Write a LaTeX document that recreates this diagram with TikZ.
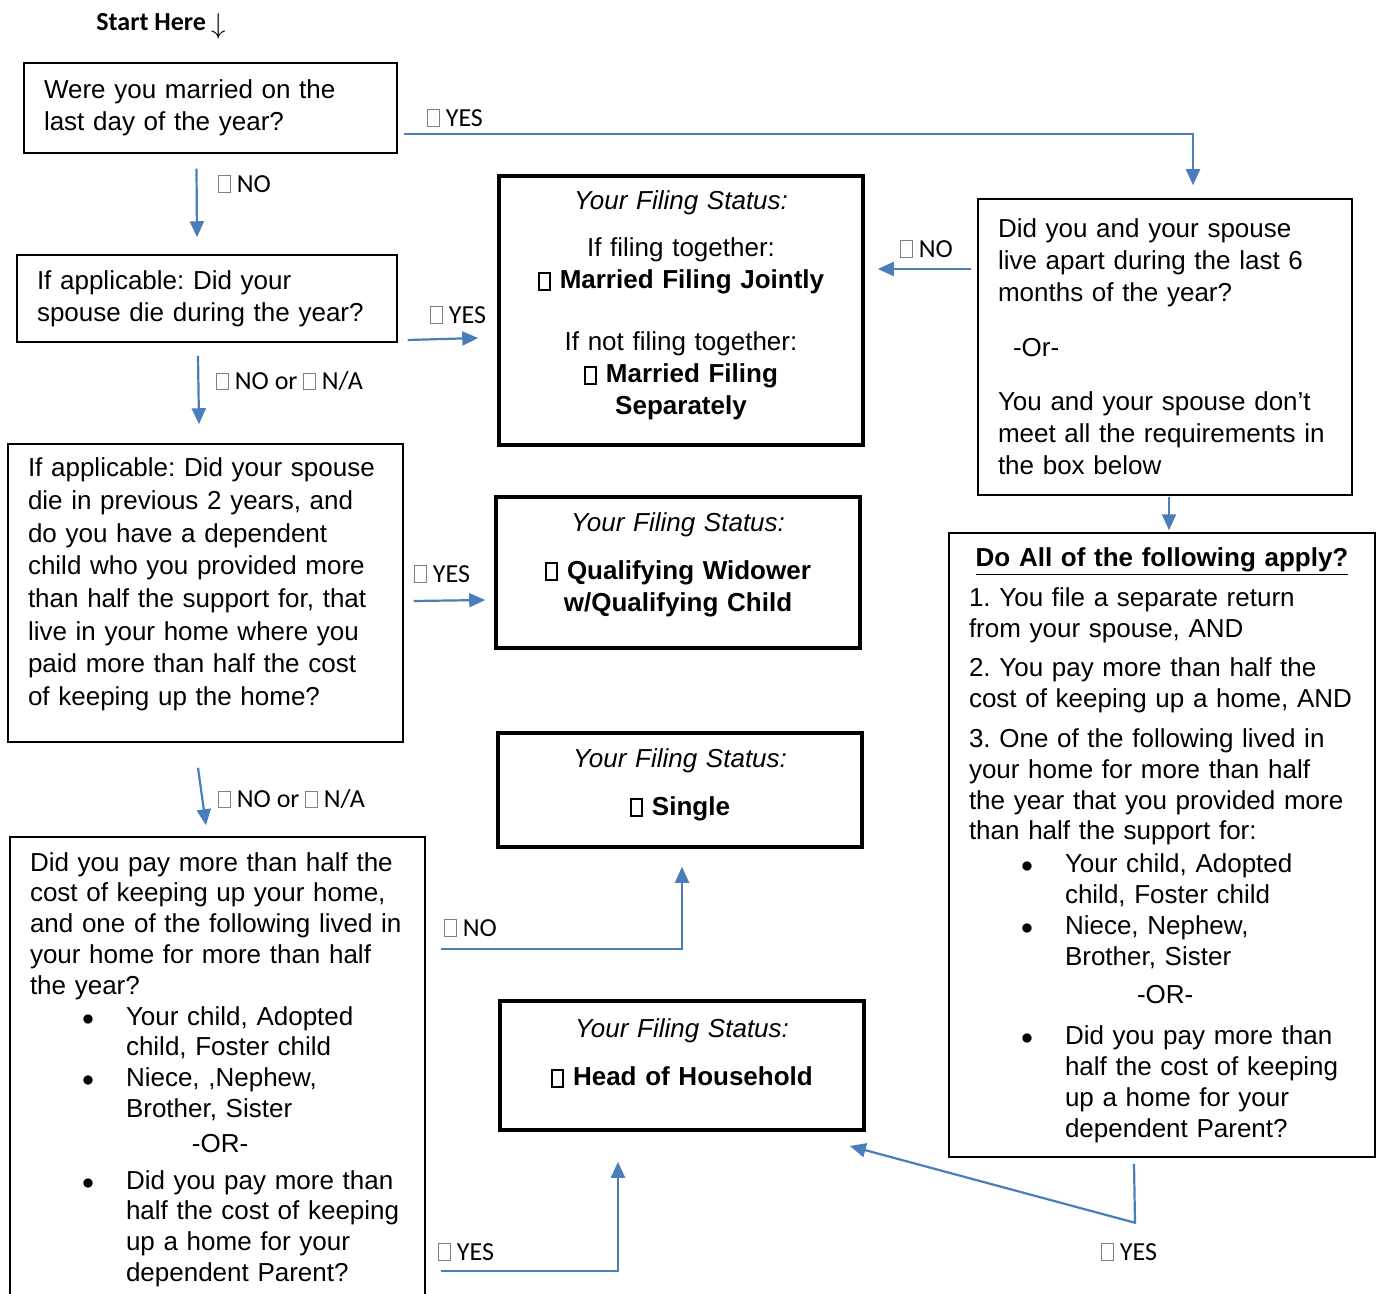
\documentclass[tikz,border=0pt]{standalone}
\usepackage{fontspec}
\setmainfont{Liberation Sans}
\newfontfamily\calib{Carlito}
\usetikzlibrary{arrows.meta, positioning}
\definecolor{linkblue}{HTML}{4A7EBB}
\frenchspacing
\newcommand{\chk}{{\color{gray}\fboxsep=0pt\fboxrule=0.4pt\fbox{\rule{0pt}{8pt}\hspace{5.5pt}}}}
\newcommand{\chkb}{{\fboxsep=0pt\fboxrule=1pt\fbox{\rule{0pt}{7.5pt}\hspace{4.6pt}}}}
\newcommand{\bul}{\makebox[48pt][l]{\hspace{26pt}$\bullet$}}
\newcommand{\ind}{\hspace*{48pt}}
\tikzset{
  every picture/.style={x=0.5pt, y=-0.5pt},
  quest/.style={draw, line width=0.75pt, align=left, inner xsep=10pt, inner ysep=0pt,
                font=\fontsize{13pt}{16pt}\selectfont},
  status/.style={draw, line width=1.8pt, align=center, inner xsep=8pt, inner ysep=0pt,
                 text width=166pt, font=\fontsize{13pt}{16pt}\selectfont},
  flow/.style={draw=linkblue, line width=1.1pt, -{Triangle[length=8pt,width=7pt]}},
  lbl/.style={anchor=west, inner sep=0pt, font=\calib\fontsize{13pt}{16pt}\selectfont},
}

\begin{document}
\begin{tikzpicture}
  \useasboundingbox (0,0) rectangle (1380,1294);
  \node[anchor=base west, inner sep=0pt, font=\calib\bfseries\fontsize{13pt}{16pt}\selectfont] (start) at (96,31)
    {Start Here \raisebox{-1.5pt}{\fontsize{15pt}{15pt}\selectfont$\downarrow$}};

  % questions, left column
  \node[quest, text width=166.5pt, minimum height=45pt] (married) at (210.5,108)
    {Were you married on the\\last day of the year?};
  \node[quest, text width=170pt, minimum height=43.5pt] (died) at (207,298.5)
    {If applicable: Did your\\spouse die during the year?};
  \node[quest, text width=177.5pt, minimum height=149pt, text depth=125.8pt,
        font=\fontsize{13pt}{16.35pt}\selectfont] (widow) at (205.5,593)
    {If applicable: Did your spouse\\die in previous 2 years, and\\do you have a dependent\\child who you provided more\\than half the support for, that\\live in your home where you\\paid more than half the cost\\of keeping up the home?};
  \node[quest, text width=187.5pt, minimum height=232.5pt,
        font=\fontsize{13pt}{15.4pt}\selectfont] (household) at (217.5,1069.5)
    {Did you pay more than half the\\cost of keeping up your home,\\and one of the following lived in\\your home for more than half\\the year?\\
     \bul Your child, Adopted\\\ind child, Foster child\\
     \bul Niece, ,Nephew,\\\ind Brother, Sister\\[2pt]
     \hspace*{81pt}-OR-\\[3pt]
     \bul Did you pay more than\\\ind half the cost of keeping\\\ind up a home for your\\\ind dependent Parent?};

  % filing status boxes
  \node[status, minimum height=134.5pt, text depth=110.3pt] (joint) at (681,310.5)
    {\textit{Your Filing Status:}\\[7.5pt]If filing together:\\\textbf{\chkb\ Married Filing Jointly}\\[15pt]
     If not filing together:\\\textbf{\chkb\ Married Filing}\\\textbf{Separately}};
  \node[status, minimum height=75.5pt, text depth=50.5pt] (qualw) at (678,572.5)
    {\textit{Your Filing Status:}\\[8pt]\textbf{\chkb\ Qualifying Widower}\\\textbf{w/Qualifying Child}};
  \node[status, minimum height=57pt, text depth=32pt] (single) at (680,790)
    {\textit{Your Filing Status:}\\[8pt]\textbf{\chkb\ Single}};
  \node[status, minimum height=64.5pt, text depth=37pt] (hoh) at (682,1065.5)
    {\textit{Your Filing Status:}\\[8pt]\textbf{\chkb\ Head of Household}};

  % questions, right column
  \node[quest, text width=167pt, minimum height=148pt] (apart) at (1165,347)
    {Did you and your spouse\\live apart during the last 6\\months of the year?\\[11.5pt]
     \hspace*{7.5pt}-Or-\\[11pt]
     You and your spouse don’t\\meet all the requirements in\\the box below};
  \node[quest, text width=193pt, minimum height=312pt,
        font=\fontsize{13pt}{15.4pt}\selectfont] (allapply) at (1162,845)
    {\makebox[\linewidth][c]{\bfseries\underline{Do All of the following apply?}}\\[4.5pt]
     1. You file a separate return\\from your spouse, AND\\[4.5pt]
     2. You pay more than half the\\cost of keeping up a home, AND\\[4.5pt]
     3. One of the following lived in\\your home for more than half\\the year that you provided more\\than half the support for:\\[1pt]
     \bul Your child, Adopted\\\ind child, Foster child\\
     \bul Niece, Nephew,\\\ind Brother, Sister\\[4pt]
     \hspace*{84pt}-OR-\\[5pt]
     \bul Did you pay more than\\\ind half the cost of keeping\\\ind up a home for your\\\ind dependent Parent?};

  % answers
  \node[lbl] (yesmar) at (427,118) {\chk\ YES};
  \node[lbl] (nomar) at (218,184) {\chk\ NO};
  \node[lbl] (yesdied) at (430,315) {\chk\ YES};
  \node[lbl] (nodied) at (216,381) {\chk\ NO or \chk\ N/A};
  \node[lbl] (yeswid) at (414,574) {\chk\ YES};
  \node[lbl] (nowid) at (218,799) {\chk\ NO or \chk\ N/A};
  \node[lbl] (noapart) at (900,249) {\chk\ NO};
  \node[lbl] (nohome) at (444,928) {\chk\ NO};
  \node[lbl] (yeshome) at (438,1252) {\chk\ YES};
  \node[lbl] (yesall) at (1101,1252) {\chk\ YES};

  % connectors
  \draw[flow] ([xshift=3pt,yshift=-13pt]married.east) -| ([xshift=14pt,yshift=6.5pt]apart.north);
  \draw[flow] ([xshift=-7pt,yshift=-7.5pt]married.south) -- ([xshift=-5pt,yshift=8.5pt]died.north);
  \draw[flow] ([xshift=5pt,yshift=-20.75pt]died.east) -- ([xshift=-9.5pt,yshift=-13.75pt]joint.west);
  \draw[flow] ([xshift=-4.5pt,yshift=-6.5pt]died.south) -- ([xshift=-3.25pt,yshift=9.5pt]widow.north);
  \draw[flow] ([xshift=5pt,yshift=-4pt]widow.east) -- ([xshift=-4.5pt,yshift=-13.75pt]qualw.west);
  \draw[flow] ([xshift=-3.75pt,yshift=-12.5pt]widow.south) -- ([xshift=-5.75pt,yshift=5.5pt]household.north);
  \draw[flow] ([xshift=-3pt,yshift=39pt]apart.west) -- ([xshift=6.5pt,yshift=20.75pt]joint.east);
  \draw[flow] ([xshift=2pt,yshift=-0.5pt]apart.south) -- ([xshift=3.5pt,yshift=1pt]allapply.north);
  \draw[flow] ([xshift=7.5pt,yshift=60.25pt]household.east) -| ([xshift=1pt,yshift=-9pt]single.south);
  \draw[flow] ([xshift=7.5pt,yshift=-100.75pt]household.east) -| ([xshift=-32pt,yshift=-15pt]hoh.south);
  \draw[flow] ([xshift=-14pt,yshift=-3pt]allapply.south) -- ([xshift=-13.5pt,yshift=-32.5pt]allapply.south)
    -- ([xshift=-8pt,yshift=-40.25pt]hoh.east);
\end{tikzpicture}
\end{document}
